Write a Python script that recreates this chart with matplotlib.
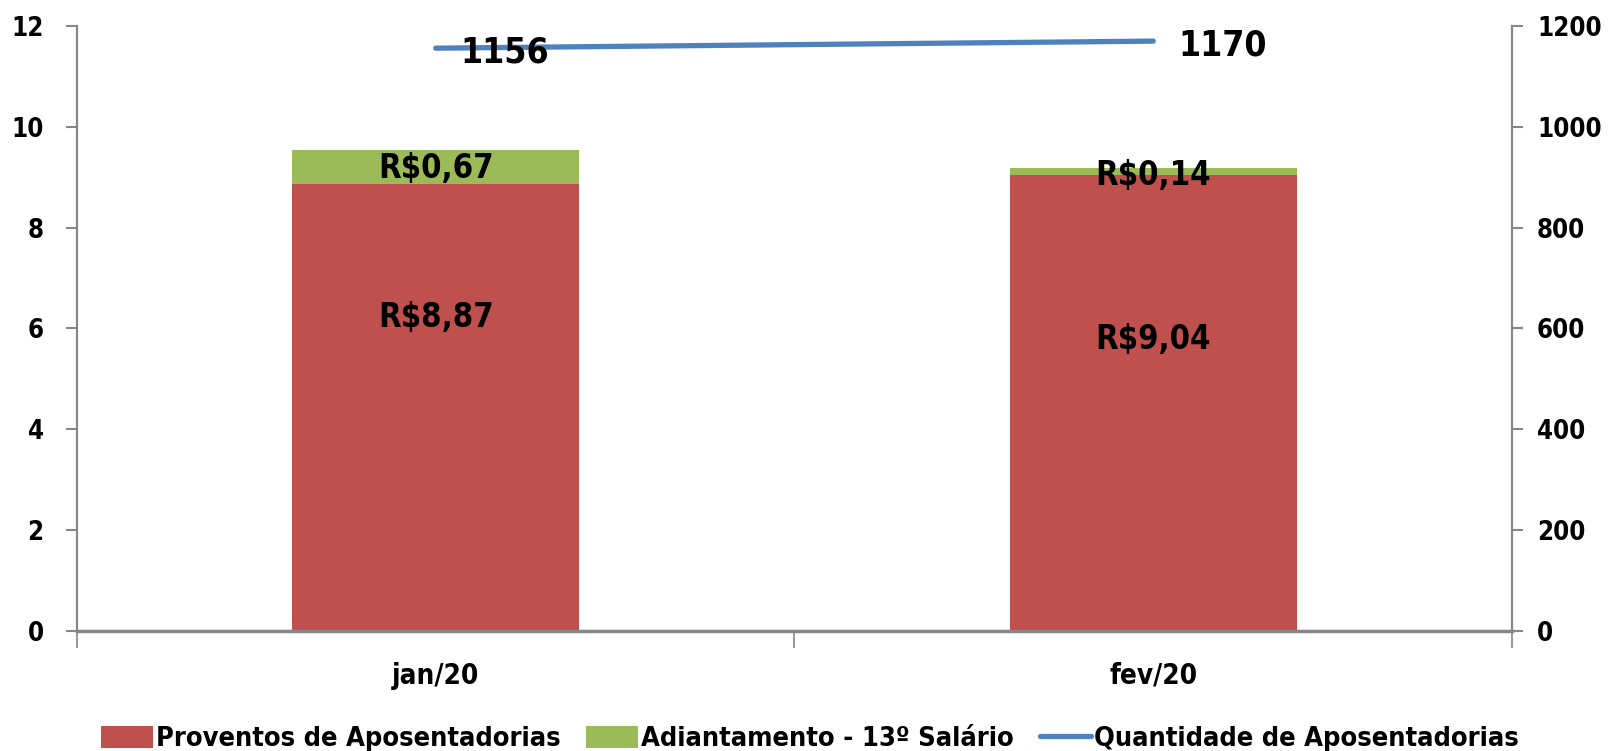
import matplotlib.pyplot as plt
import numpy as np

# valores
meses = ["jan/20", "fev/20"]
proventos = [8.87, 9.04]
adiantamento = [0.67, 0.14]
quantidade = [1156, 1170]

rotulos_prov = ["R$8,87", "R$9,04"]
rotulos_adi = ["R$0,67", "R$0,14"]

plt.rcParams["font.family"] = ["DejaVu Sans"]
plt.rcParams["font.stretch"] = "condensed"
plt.rcParams["font.weight"] = "bold"

vermelho = "#C0504D"
verde = "#9BBB59"
azul = "#4F81BD"
cinza = "#868686"

fig = plt.figure(figsize=(16.14, 7.51), dpi=100)
ax = fig.add_axes([0.0477, 0.1598, 0.8891, 0.8056])
ax2 = ax.twinx()

x = np.arange(len(meses))
b1 = ax.bar(x, proventos, width=0.4, color=vermelho, label="Proventos de Aposentadorias")
b2 = ax.bar(x, adiantamento, width=0.4, bottom=proventos, color=verde,
            label="Adiantamento - 13º Salário")

# rotulos das barras (posicoes como no original)
y_prov = [6.22, 5.78]
y_adi = [9.18, 9.04]
for i in range(len(meses)):
    ax.text(x[i], y_prov[i], rotulos_prov[i], ha="center", va="center", fontsize=23.5, fontweight="bold")
    ax.text(x[i], y_adi[i], rotulos_adi[i], ha="center", va="center", fontsize=23.5, fontweight="bold")

ln, = ax2.plot(x, quantidade, color=azul, lw=3.8, solid_capstyle="round",
               label="Quantidade de Aposentadorias")
for i in range(len(meses)):
    ax2.annotate(str(quantidade[i]), (x[i], quantidade[i]), xytext=(18, -3),
                 textcoords="offset points", ha="left", va="center",
                 fontsize=25.5, fontweight="bold")

ax.set_xlim(-0.5, 1.5)
ax.set_ylim(0, 12)
ax2.set_ylim(0, 1200)
ax.set_yticks(range(0, 13, 2))
ax2.set_yticks(range(0, 1201, 200))

ax.set_xticks([-0.5, 0.5, 1.5], minor=False)
ax.set_xticklabels([])
ax.set_xticks(x, minor=True)
ax.set_xticklabels(meses, minor=True)
ax.tick_params(axis="x", which="major", length=12, color=cinza, width=1.2, direction="out")
ax.tick_params(axis="x", which="minor", length=0, pad=22, labelsize=20)

for a in (ax, ax2):
    a.spines["top"].set_visible(False)
    for s in ("left", "right", "bottom"):
        a.spines[s].set_color(cinza)
        a.spines[s].set_linewidth(1.5)
ax.spines["bottom"].set_linewidth(2.5)
ax.tick_params(axis="y", length=8, color=cinza, width=1.5, labelsize=18.5, pad=16)
ax2.tick_params(axis="y", length=8, color=cinza, width=1.5, labelsize=18.5, pad=10)
for t in ax.get_yticklabels() + ax2.get_yticklabels() + ax.get_xticklabels(minor=True):
    t.set_fontweight("bold")

fig.legend([b1, b2, ln], [b1.get_label(), b2.get_label(), ln.get_label()],
           loc="center", bbox_to_anchor=(0.502, 0.016), ncol=3, frameon=False,
           handlelength=1.9, handleheight=0.9, handletextpad=0.12,
           columnspacing=0.95, prop={"weight": "bold", "size": 19.5, "stretch": "condensed"})

fig.savefig("out.png", dpi=100)
